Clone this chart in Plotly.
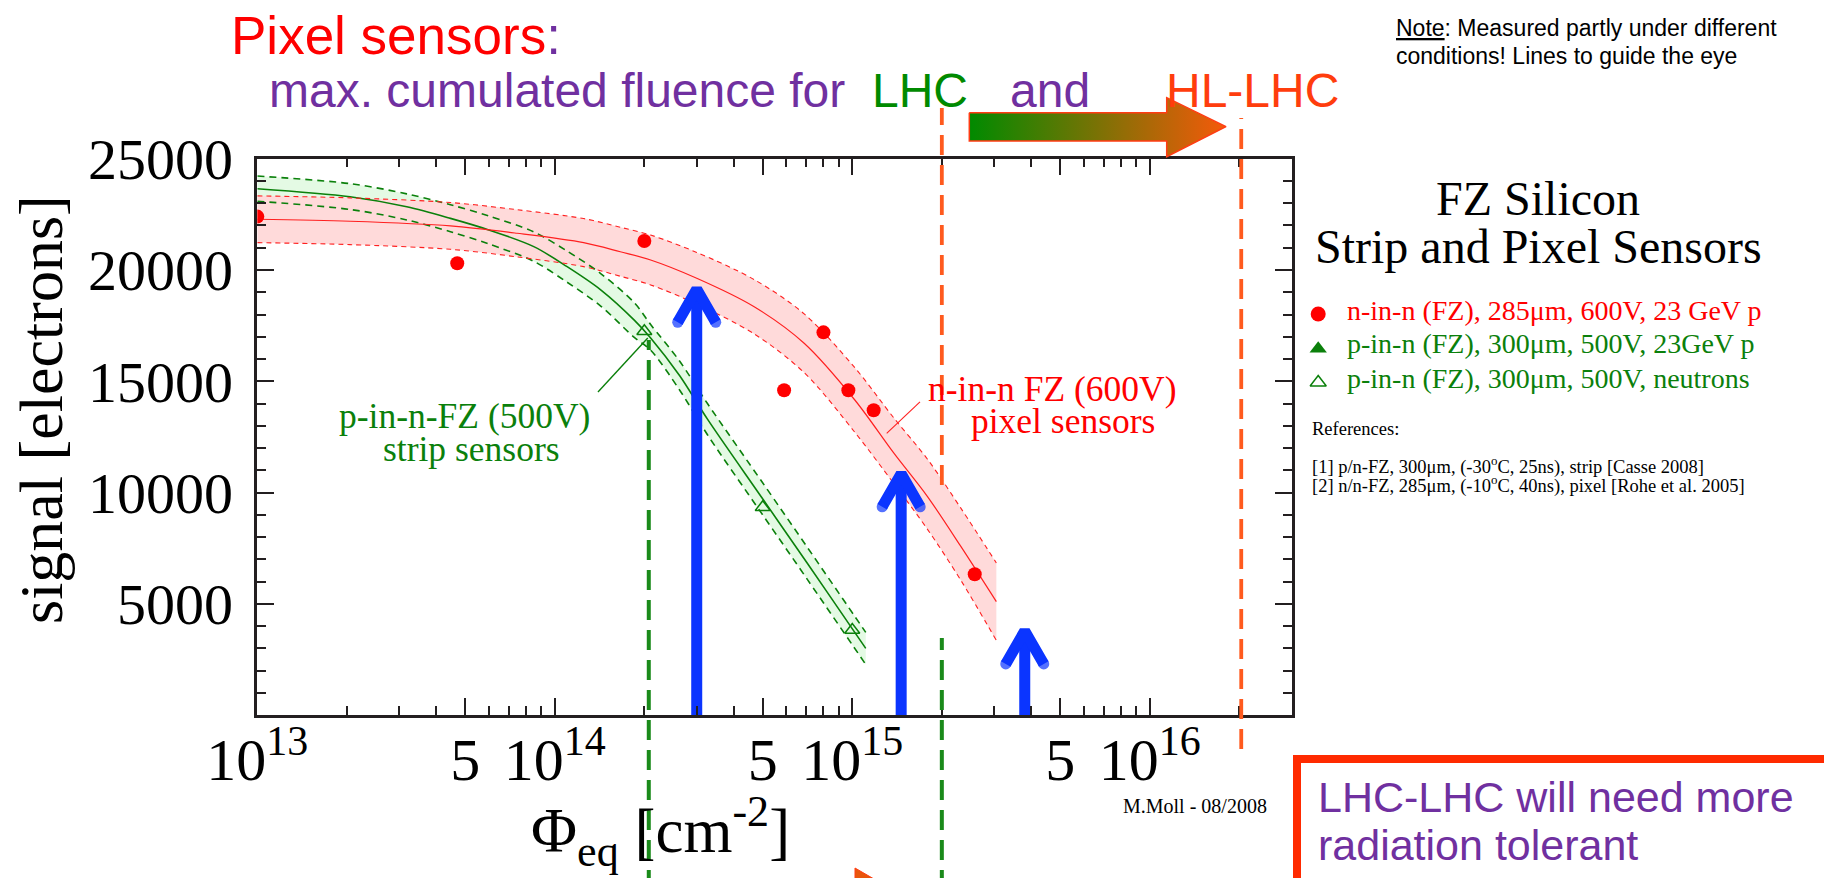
import numpy as np
import plotly.graph_objects as go

W, H = 1824, 878

# ---------------- data ----------------
# n-in-n FZ pixel sensors, 285 um, 600 V, 23 GeV protons
pix_fluence = [1.0e13, 4.7e13, 2.0e14, 5.9e14, 8.0e14, 9.7e14, 1.18e15, 2.58e15]
pix_signal = [22400, 20300, 21300, 14600, 17200, 14600, 13700, 6330]

# p-in-n FZ strip sensors, 300 um, 500 V, neutrons
strip_fluence = [2.0e14, 5.0e14, 1.0e15]
strip_signal = [17250, 9340, 3830]

# guide-to-the-eye curve (centre line and band) for the pixel sensors
pix_curve_fluence = [1.0e13, 2.05e13, 4.46e13, 7.46e13, 1.25e14, 1.66e14, 2.10e14, 3.0e14,
                     4.68e14, 6.89e14, 1.02e15, 1.38e15, 1.79e15, 2.32e15, 3.05e15]
pix_curve_mid = [22280, 22190, 21980, 21650, 21230, 20820, 20450, 19630,
                 18350, 16710, 14160, 11770, 9820, 7570, 5100]
pix_curve_hi = [23330, 23240, 23030, 22710, 22310, 21920, 21570, 20790,
                19570, 18030, 15610, 13350, 11500, 9290, 6840]
pix_curve_lo = [21230, 21140, 20930, 20590, 20150, 19720, 19330, 18470,
                17130, 15390, 12710, 10400, 8350, 6050, 3360]

# guide-to-the-eye curve (centre line and band) for the strip sensors
strip_curve_fluence = [1.0e13, 2.05e13, 3.18e13, 4.46e13, 6.0e13, 8.5e13, 1.10e14, 1.43e14,
                       1.85e14, 2.10e14, 2.63e14, 3.26e14, 5.01e14, 7.08e14, 1.01e15, 1.11e15]
strip_curve_mid = [23650, 23290, 22840, 22320, 21800, 21050, 20150, 19100,
                   17750, 16950, 15250, 13300, 9700, 6800, 3800, 3000]
strip_curve_hi = [24220, 23880, 23420, 22930, 22430, 21710, 20850, 19830,
                  18530, 17550, 15900, 14000, 10420, 7520, 4520, 3720]
strip_curve_lo = [23090, 22720, 22250, 21720, 21170, 20390, 19450, 18370,
                  16970, 16400, 14600, 12600, 8980, 6080, 3080, 2280]

# blue arrows: fluence and the signal the arrow points at
arrow_fluence = [3.0e14, 1.46e15, 3.8e15]
arrow_signal = [19630, 11340, 4280]

# LHC / HL-LHC fluence markers
lhc_strip_fluence = 2.07e14
lhc_pixel_fluence = 2.0e15
hllhc_pixel_fluence = 2.03e16

# axis ticks
x_tickvals = [1e13, 5e13, 1e14, 5e14, 1e15, 5e15, 1e16]
x_ticktext = ["10<sup>13</sup>", "5", "10<sup>14</sup>", "5", "10<sup>15</sup>", "5", "10<sup>16</sup>"]
y_tickvals = [5000, 10000, 15000, 20000, 25000]
y_ticktext = ["5000", "10000", "15000", "20000", "25000"]

# ---------------- geometry & style ----------------
BOX_L, BOX_R, BOX_T, BOX_B = 257.3, 1291.7, 158.7, 715.2
X_RANGE = [13.0, float(np.log10(3e16))]
Y_RANGE = [0, 25000]

SERIF = "Liberation Serif"
SANS = "Liberation Sans"
RED = "#ff0000"
GREEN = "#0b800b"
PURPLE = "#7030a0"
BLUE = "#0b35ff"
ORANGE = "#ff5a1e"
AXIS = "#231f20"


def fx(px):
    return px / W


def fy(py):
    return 1 - py / H


px_per_decade = (BOX_R - BOX_L) / (X_RANGE[1] - X_RANGE[0])
px_per_e = (BOX_B - BOX_T) / (Y_RANGE[1] - Y_RANGE[0])

fig = go.Figure()


def band(fl, lo, hi, fill):
    fig.add_trace(go.Scatter(x=fl, y=lo, mode="lines", hoverinfo="skip",
                             line=dict(width=0, shape="spline", smoothing=0.9)))
    fig.add_trace(go.Scatter(x=fl, y=hi, mode="lines", hoverinfo="skip", fill="tonexty",
                             fillcolor=fill, line=dict(width=0, shape="spline", smoothing=0.9)))


def curve(fl, ys, color, width, dash="solid"):
    fig.add_trace(go.Scatter(x=fl, y=ys, mode="lines", hoverinfo="skip",
                             line=dict(color=color, width=width, dash=dash,
                                       shape="spline", smoothing=0.9)))


# bands (strip first, pixel band painted over it)
band(strip_curve_fluence, strip_curve_lo, strip_curve_hi, "#e4fae4")
band(pix_curve_fluence, pix_curve_lo, pix_curve_hi, "#ffdada")

# band edges and centre lines
curve(strip_curve_fluence, strip_curve_hi, GREEN, 1.6, "7px,5px")
curve(strip_curve_fluence, strip_curve_lo, GREEN, 1.6, "7px,5px")
curve(strip_curve_fluence, strip_curve_mid, GREEN, 1.6)
curve(pix_curve_fluence, pix_curve_hi, "#ff2020", 1.1, "5px,4px")
curve(pix_curve_fluence, pix_curve_lo, "#ff2020", 1.1, "5px,4px")
curve(pix_curve_fluence, pix_curve_mid, "#ff2020", 1.2)

# measured points
fig.add_trace(go.Scatter(x=pix_fluence, y=pix_signal, mode="markers", hoverinfo="skip",
                         marker=dict(symbol="circle", size=14, color=RED)))
fig.add_trace(go.Scatter(x=strip_fluence, y=strip_signal, mode="markers", hoverinfo="skip",
                         marker=dict(symbol="triangle-up-open", size=13, color=GREEN,
                                     line=dict(width=1.5, color=GREEN))))

# blue arrows (shaft + chevron head)
ARROW_W = 11
NOTCH_PX, WING_DY_PX, WING_DX_PX = 11, 44, 19
for f, s in zip(arrow_fluence, arrow_signal):
    lf = np.log10(f)
    notch = s - NOTCH_PX / px_per_e
    wing_y = s - WING_DY_PX / px_per_e
    dx = WING_DX_PX / px_per_decade
    fig.add_trace(go.Scatter(x=[f, f], y=[0, notch], mode="lines", hoverinfo="skip",
                             line=dict(color=BLUE, width=ARROW_W)))
    fig.add_trace(go.Scatter(x=[10 ** (lf - dx), f, 10 ** (lf + dx)], y=[wing_y, notch, wing_y],
                             mode="lines+markers", hoverinfo="skip",
                             marker=dict(size=[ARROW_W, 0, ARROW_W], color=BLUE, line=dict(width=0)),
                             line=dict(color=BLUE, width=ARROW_W)))

# --- decorations drawn on a full-figure pixel subplot ---
arrow_x = [969.3, 1166.7, 1166.7, 1226.0, 1166.7, 1166.7, 969.3, 969.3]
arrow_y = [112.7, 112.7, 97.7, 126.7, 156.7, 141.0, 141.0, 112.7]
fig.add_trace(go.Scatter(x=arrow_x, y=arrow_y, xaxis="x2", yaxis="y2", mode="lines",
                         fill="toself", hoverinfo="skip",
                         fillgradient=dict(type="horizontal",
                                           colorscale=[[0, "#008a00"], [1, "#f55a0a"]]),
                         line=dict(color="#ff3c14", width=1.5)))

# legend symbols
fig.add_trace(go.Scatter(x=[1318.2], y=[314], xaxis="x2", yaxis="y2", mode="markers",
                         hoverinfo="skip", marker=dict(symbol="circle", size=15, color=RED)))
fig.add_trace(go.Scatter(x=[1318.2], y=[348.7], xaxis="x2", yaxis="y2", mode="markers",
                         hoverinfo="skip", marker=dict(symbol="triangle-up", size=15, color=GREEN)))
fig.add_trace(go.Scatter(x=[1318.2], y=[382.5], xaxis="x2", yaxis="y2", mode="markers",
                         hoverinfo="skip",
                         marker=dict(symbol="triangle-up-open", size=14, color=GREEN,
                                     line=dict(width=1.5, color=GREEN))))

# small arrow tip peeking in at the bottom edge
fig.add_trace(go.Scatter(x=[855, 874, 855, 855], y=[868, 879, 879, 868], xaxis="x2", yaxis="y2",
                         mode="lines", fill="toself", fillcolor="#e8560c", hoverinfo="skip",
                         line=dict(color="#ff3c14", width=1)))

# ---------------- shapes ----------------
shapes = []


def vline(f, top_px, bot_px, color, width):
    shapes.append(dict(type="line", xref="x", yref="paper", x0=f, x1=f,
                       y0=fy(bot_px), y1=fy(top_px), layer="above",
                       line=dict(color=color, width=width, dash="20px,10px")))


vline(lhc_strip_fluence, 340, 890, "#1a8a1a", 4)
vline(lhc_pixel_fluence, 638, 890, "#1a8a1a", 4)
vline(lhc_pixel_fluence, 108, 485, ORANGE, 3.8)
vline(hllhc_pixel_fluence, 118, 749, ORANGE, 3.8)

# leader lines from the labels to the curves
shapes.append(dict(type="line", xref="x", yref="y",
                   x0=1.397e14, y0=14520, x1=2.054e14, y1=16945,
                   line=dict(color=GREEN, width=1.4)))
shapes.append(dict(type="line", xref="x", yref="y",
                   x0=1.689e15, y0=14080, x1=1.305e15, y1=12660,
                   line=dict(color="#ff2020", width=1.1)))

# frame of the conclusion box
shapes.append(dict(type="rect", xref="paper", yref="paper",
                   x0=fx(1297), x1=fx(1900), y0=fy(930), y1=fy(759),
                   line=dict(color="#ff2a00", width=8), fillcolor="rgba(0,0,0,0)"))

# ---------------- annotations ----------------
ann = []


def label(text, x, y, size, color="black", family=SERIF, xanchor="center", angle=0):
    ann.append(dict(text=text, x=fx(x), y=fy(y), xref="paper", yref="paper",
                    xanchor=xanchor, yanchor="middle", showarrow=False, borderpad=0,
                    textangle=angle, font=dict(family=family, size=size, color=color)))


label("<span style='color:#ff0000'>Pixel sensors</span>:", 230.4, 35, 53, PURPLE, SANS, "left")
label("max. cumulated fluence for", 268, 90.1, 48, PURPLE, SANS, "left")
label("LHC", 870.5, 90.1, 48, "#008a00", SANS, "left")
label("and", 1009, 90.1, 48, PURPLE, SANS, "left")
label("HL-LHC", 1165, 90.1, 48, "#ff3d0d", SANS, "left")

label("<u>Note</u>: Measured partly under different", 1394.6, 28, 23, "black", SANS, "left")
label("conditions! Lines to guide the eye", 1394.6, 56, 23, "black", SANS, "left")

label("FZ Silicon", 1538, 198, 48)
label("Strip and Pixel Sensors", 1538, 246.5, 48)
label("n-in-n (FZ), 285\u03bcm, 600V, 23 GeV p", 1346, 310.5, 28, RED, SERIF, "left")
label("p-in-n (FZ), 300\u03bcm, 500V, 23GeV p", 1346, 343.5, 28, GREEN, SERIF, "left")
label("p-in-n (FZ), 300\u03bcm, 500V, neutrons", 1346, 378, 28, GREEN, SERIF, "left")
label("References:", 1311, 428.8, 18.5, "black", SERIF, "left")
label("[1] p/n-FZ, 300\u03bcm, (-30<sup>o</sup>C, 25ns), strip [Casse 2008]", 1311, 465.5, 18.5,
      "black", SERIF, "left")
label("[2] n/n-FZ, 285\u03bcm, (-10<sup>o</sup>C, 40ns), pixel [Rohe et al. 2005]", 1311, 485, 18.5,
      "black", SERIF, "left")

label("p-in-n-FZ (500V)", 464, 416.3, 35.5, GREEN)
label("strip sensors", 471, 449, 35.5, GREEN)
label("n-in-n FZ (600V)", 1051.5, 389, 35.5, RED)
label("pixel sensors", 1063, 421, 35.5, RED)

label("M.Moll - 08/2008", 1195, 805.9, 20)

label("LHC-LHC will need more", 1316.5, 796.8, 43, PURPLE, SANS, "left")
label("radiation tolerant", 1316.5, 845.1, 43, PURPLE, SANS, "left")

label("signal [electrons]", 41, 410, 62, angle=-90)
label("\u03a6<sub>eq</sub> [cm<sup>-2</sup>]", 660, 831, 63)

# ---------------- axes ----------------
minor_x = [m * 10.0 ** d for d in range(13, 17) for m in (2, 3, 4, 6, 7, 8, 9) if m * 10.0 ** d <= 3e16]

fig.update_layout(
    width=W, height=H,
    margin=dict(l=0, r=0, t=0, b=0, pad=0, autoexpand=False),
    paper_bgcolor="white", plot_bgcolor="rgba(0,0,0,0)",
    showlegend=False,
    xaxis=dict(type="log", range=X_RANGE, domain=[fx(BOX_L), fx(BOX_R)], anchor="y",
               automargin=False,
               showline=True, linecolor=AXIS, linewidth=2.5, mirror="allticks",
               showgrid=False, zeroline=False,
               ticks="inside", ticklen=17, tickwidth=2, tickcolor=AXIS,
               tickmode="array", tickvals=x_tickvals, ticktext=x_ticktext,
               ticklabelstandoff=-10,
               tickfont=dict(family=SERIF, size=60, color="black"),
               minor=dict(tickmode="array", tickvals=minor_x, ticks="inside",
                          ticklen=9, tickwidth=2, tickcolor=AXIS, showgrid=False)),
    yaxis=dict(range=Y_RANGE, domain=[fy(BOX_B), fy(BOX_T)], anchor="x",
               automargin=False,
               showline=True, linecolor=AXIS, linewidth=2.5, mirror="allticks",
               showgrid=False, zeroline=False,
               ticks="inside", ticklen=17, tickwidth=2, tickcolor=AXIS,
               tickmode="array", tickvals=y_tickvals, ticktext=y_ticktext,
               ticklabelstandoff=10,
               tickfont=dict(family=SERIF, size=58, color="black"),
               minor=dict(dtick=1000, ticks="inside", ticklen=9, tickwidth=2,
                          tickcolor=AXIS, showgrid=False)),
    xaxis2=dict(domain=[0, 1], range=[0, W], anchor="y2", visible=False, fixedrange=True,
                automargin=False),
    yaxis2=dict(domain=[0, 1], range=[H, 0], anchor="x2", visible=False, fixedrange=True,
                automargin=False),
    shapes=shapes,
    annotations=ann,
)

fig.write_html("out.html", config={"displayModeBar": False})
